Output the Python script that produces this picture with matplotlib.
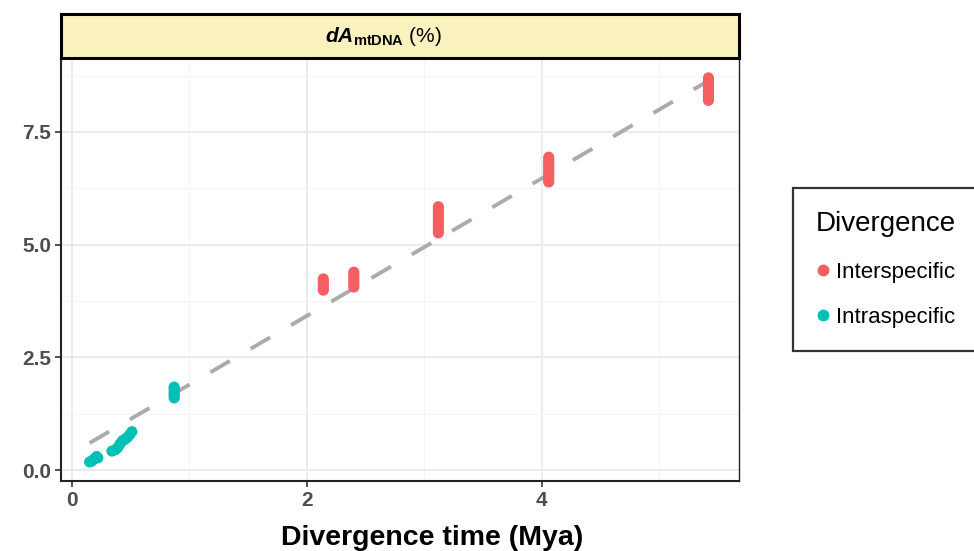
import matplotlib
matplotlib.use("Agg")
import matplotlib.pyplot as plt
from matplotlib.lines import Line2D
import numpy as np

plt.rcParams['font.family'] = ['Liberation Sans', 'DejaVu Sans']
plt.rcParams['mathtext.fontset'] = 'custom'
plt.rcParams['mathtext.rm'] = 'Liberation Sans'
plt.rcParams['mathtext.it'] = 'Liberation Sans:italic'
plt.rcParams['mathtext.bf'] = 'Liberation Sans:bold'
plt.rcParams['mathtext.bfit'] = 'Liberation Sans:italic:bold'

# ---- data ----
inter_x = [2.14, 2.14, 2.14, 2.14, 2.14, 2.14,
           2.40, 2.40, 2.40, 2.40, 2.40, 2.40, 2.40,
           3.12, 3.12, 3.12, 3.12, 3.12, 3.12, 3.12, 3.12, 3.12, 3.12, 3.12, 3.12,
           4.06, 4.06, 4.06, 4.06, 4.06, 4.06, 4.06, 4.06, 4.06, 4.06, 4.06, 4.06,
           5.42, 5.42, 5.42, 5.42, 5.42, 5.42, 5.42, 5.42, 5.42, 5.42, 5.42]
inter_y = [3.99, 4.04, 4.09, 4.14, 4.19, 4.24,
           4.06, 4.11, 4.17, 4.22, 4.28, 4.33, 4.39,
           5.26, 5.31, 5.36, 5.42, 5.47, 5.52, 5.58, 5.63, 5.68, 5.74, 5.79, 5.84,
           6.39, 6.44, 6.49, 6.54, 6.59, 6.64, 6.69, 6.74, 6.79, 6.84, 6.89, 6.94,
           8.20, 8.25, 8.30, 8.35, 8.40, 8.45, 8.50, 8.55, 8.60, 8.65, 8.70]
intra_x = [0.15, 0.17, 0.19, 0.21, 0.22,
           0.34, 0.37, 0.39, 0.41, 0.43, 0.45, 0.47, 0.49, 0.51,
           0.87, 0.87, 0.87, 0.87, 0.87, 0.87]
intra_y = [0.18, 0.20, 0.25, 0.30, 0.27,
           0.42, 0.45, 0.50, 0.58, 0.65, 0.68, 0.72, 0.78, 0.85,
           1.60, 1.65, 1.70, 1.75, 1.80, 1.84]
fit_x = [0.15, 5.42]
fit_intercept = 0.37
fit_slope = 1.525

x_ticks = [0, 2, 4]
y_ticks = [0.0, 2.5, 5.0, 7.5]
y_ticklabels = ["0.0", "2.5", "5.0", "7.5"]

col_inter = "#F55F62"
col_intra = "#00BFB4"

fig = plt.figure(figsize=(9.74, 5.51), dpi=100)
ax = fig.add_axes([0.0626, 0.127, 0.6961, 0.7677])

ax.set_xlim(-0.094, 5.68)
ax.set_ylim(-0.244, 9.14)

# grid
ax.set_xticks(x_ticks)
ax.set_yticks(y_ticks)
ax.set_xticks([1, 3, 5], minor=True)
ax.set_yticks([1.25, 3.75, 6.25, 8.75], minor=True)
ax.grid(True, which='major', color='#EBEBEB', lw=1.4, zorder=0)
ax.grid(True, which='minor', color='#F4F4F4', lw=0.8, zorder=0)
ax.set_axisbelow(True)
ax.tick_params(which='minor', length=0)

fx = np.array(fit_x)
ax.plot(fx, fit_intercept + fit_slope * fx, color='#ABABAB', lw=2.8,
        dashes=(5.8, 6.2), zorder=2, dash_capstyle='butt')

ax.scatter(inter_x, inter_y, s=64, color=col_inter, edgecolors='none', zorder=3)
ax.scatter(intra_x, intra_y, s=64, color=col_intra, edgecolors='none', zorder=3)

for side in ['left', 'bottom', 'right']:
    ax.spines[side].set_color('#222222')
    ax.spines[side].set_linewidth(1.5)
ax.spines['right'].set_linewidth(1.0)
ax.spines['top'].set_visible(False)

ax.set_yticklabels(y_ticklabels)
ax.tick_params(which='major', length=4, width=1.2, color='#333333',
               labelsize=15, labelcolor='#4D4D4D', pad=3)
for lab in ax.get_xticklabels() + ax.get_yticklabels():
    lab.set_fontweight('bold')

ax.set_xlabel("Divergence time (Mya)", fontsize=20.5, fontweight='bold',
              color='black')
ax.xaxis.set_label_coords(0.547, -0.105)

# strip
strip = fig.add_axes([0.0626, 0.8947, 0.6961, 0.0799])
strip.set_facecolor('#FAF2BE')
strip.set_xticks([])
strip.set_yticks([])
for s in strip.spines.values():
    s.set_linewidth(2.2)
    s.set_color('black')
strip.text(0.475, 0.5, r"$\bfit{dA}_{\mathbf{mtDNA}}$ (%)", fontsize=15,
           ha='center', va='center', transform=strip.transAxes)

# legend
handles = [Line2D([], [], marker='o', ls='none', color=col_inter, markersize=7.5),
           Line2D([], [], marker='o', ls='none', color=col_intra, markersize=7.5)]
leg = fig.legend(handles, ["Interspecific", "Intraspecific"], title="Divergence",
                 loc='upper left', bbox_to_anchor=(0.814, 0.659),
                 fontsize=16, title_fontsize=20, frameon=True, fancybox=False,
                 handletextpad=0.3, handlelength=0.6, labelspacing=1.1,
                 borderpad=1.05, borderaxespad=0)
leg.get_frame().set_edgecolor('black')
leg.get_frame().set_linewidth(1.6)
leg._legend_box.align = "left"

fig.savefig("out.png", dpi=100)
